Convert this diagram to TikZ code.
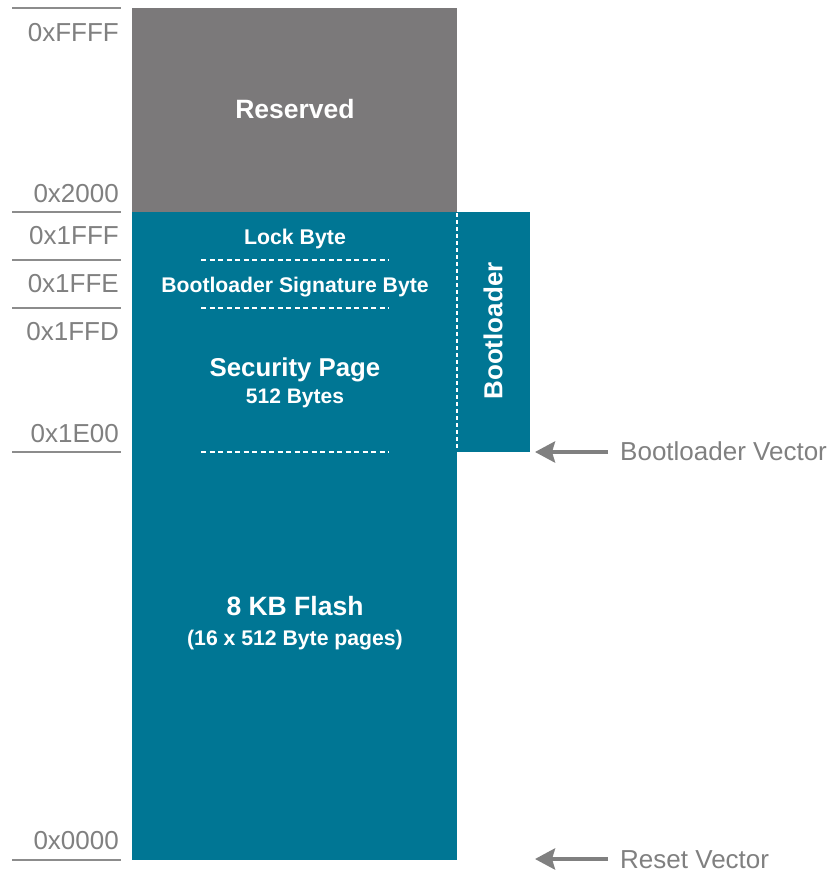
\documentclass[tikz,border=0pt]{standalone}
\usepackage{fontspec}
\setmainfont{Liberation Sans}
\usetikzlibrary{arrows.meta}
\definecolor{teal0}{RGB}{0,118,148}
\definecolor{resgray}{RGB}{123,121,122}
\definecolor{txtgray}{RGB}{128,128,128}
\definecolor{rulegray}{RGB}{140,140,140}
\begin{document}
\begin{tikzpicture}[x=1bp,y=-1bp,
  addr/.style={anchor=base east, inner sep=0, text=txtgray, font={\fontsize{26bp}{28bp}\selectfont}},
  rulel/.style={draw=rulegray, line width=2bp},
  wtext/.style={anchor=base, text=white, inner sep=0, font={\bfseries\fontsize{#1bp}{#1bp}\selectfont}},
  sep/.style={draw=white, line width=2bp, dash pattern=on 5bp off 3.5bp},
  arr/.style={draw=txtgray, line width=4bp, -{Stealth[length=20bp,width=21bp,inset=3bp]}},
  vlabel/.style={anchor=base west, inner sep=0, text=txtgray, font={\fontsize{26bp}{28bp}\selectfont}}]
\useasboundingbox (0,0) rectangle (836,875);
% blocks
\fill[resgray] (132,8) rectangle (457,212);
\fill[teal0] (132,212) rectangle (457,860);
\fill[teal0] (457,212) rectangle (530,452);
\draw[draw=white, line width=2bp, dash pattern=on 4bp off 3bp] (457,213) -- (457,451);
% rules
\foreach \yy in {8,212,260,308,452,860} \draw[rulel] (12,\yy) -- (121,\yy);
% separators
\foreach \yy in {260,308,452} \draw[sep] (201,\yy) -- (389,\yy);
% addresses
\node[addr] (aFFFF) at (119,41) {0xFFFF};
\node[addr] (a2000) at (119,202) {0x2000};
\node[addr] (a1FFF) at (119,244) {0x1FFF};
\node[addr] (a1FFE) at (119,292) {0x1FFE};
\node[addr] (a1FFD) at (119,340) {0x1FFD};
\node[addr] (a1E00) at (119,442) {0x1E00};
\node[addr] (a0000) at (119,849) {0x0000};
% block texts
\node[wtext=26.5] (res) at (295,118) {Reserved};
\node[wtext=21.3] (lock) at (295,244) {Lock Byte};
\node[wtext=21.2] (sig) at (295,292) {Bootloader Signature Byte};
\node[wtext=25.8] (sec) at (295,376) {Security Page};
\node[wtext=21] (secsz) at (295,403) {512 Bytes};
\node[wtext=26.5] (flash) at (295,615) {8 KB Flash};
\node[wtext=21.2] (pages) at (295,645) {(16 x 512 Byte pages)};
\node[text=white, inner sep=0, rotate=90, font={\bfseries\fontsize{26bp}{26bp}\selectfont}] (boot) at (493,331) {Bootloader};
% vectors
\coordinate (bvtip) at (535,452);
\coordinate (bvtail) at (608,452);
\node[vlabel] (bv) at (620,460) {Bootloader Vector};
\draw[arr] (bvtail) -- (bvtip);
\coordinate (rvtip) at (535,859);
\coordinate (rvtail) at (608,859);
\node[vlabel] (rv) at (620,868) {Reset Vector};
\draw[arr] (rvtail) -- (rvtip);
\end{tikzpicture}
\end{document}
